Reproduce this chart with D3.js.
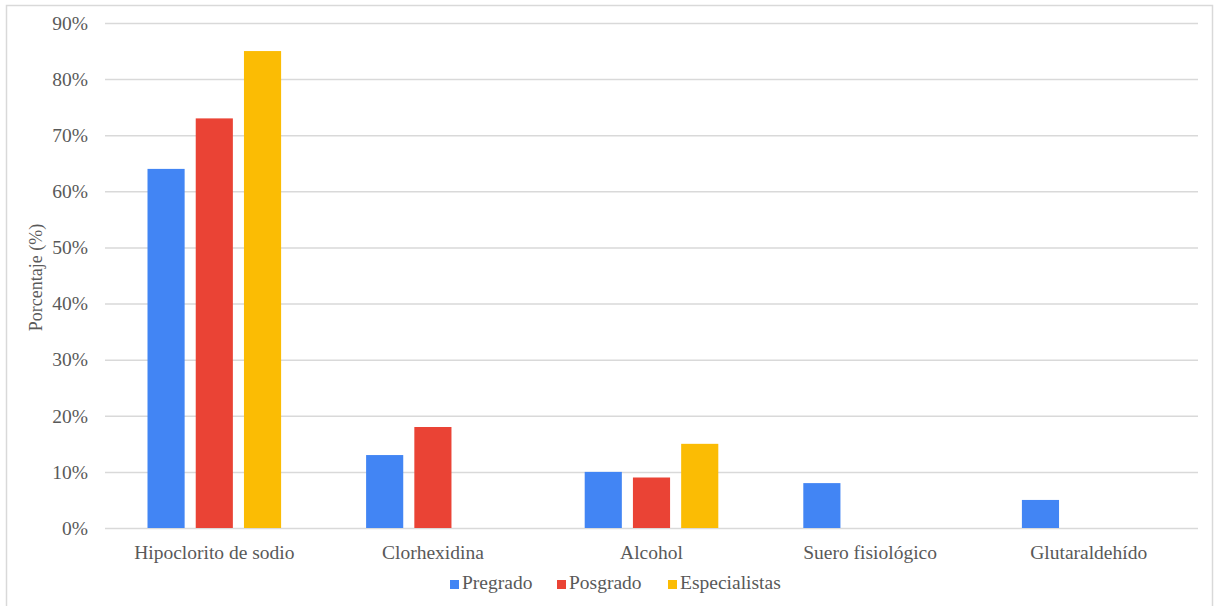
<!DOCTYPE html>
<html>
<head>
<meta charset="utf-8">
<script src="https://cdn.jsdelivr.net/npm/d3@7"></script>
<style>
  html, body { margin: 0; padding: 0; background: #ffffff; }
  svg { display: block; }
  text { font-family: "Liberation Serif", "Times New Roman", serif; }
</style>
</head>
<body>
<svg id="chart" width="1220" height="606"></svg>
<script>
const categories = ["Hipoclorito de sodio", "Clorhexidina", "Alcohol", "Suero fisiológico", "Glutaraldehído"];
const seriesNames = ["Pregrado", "Posgrado", "Especialistas"];
const pregrado = [64, 13, 10, 8, 5];
const posgrado = [73, 18, 9, 0, 0];
const especialistas = [85, 0, 15, 0, 0];
const yTicks = [0, 10, 20, 30, 40, 50, 60, 70, 80, 90];
const yLabel = "Porcentaje (%)";
const colors = ["#4285F4", "#EA4335", "#FBBC04"];

const seriesValues = [pregrado, posgrado, especialistas];

const svg = d3.select("#chart");
const W = 1220, H = 606;

// outer chart border
svg.append("rect")
  .attr("x", 6.5).attr("y", 5.5)
  .attr("width", 1206).attr("height", 620)
  .attr("fill", "#ffffff")
  .attr("stroke", "#d9d9d9").attr("stroke-width", 1.5);

const plot = { left: 105, right: 1198, top: 23, bottom: 528 };

const x0 = d3.scaleBand().domain(categories).range([plot.left, plot.right]).paddingInner(0).paddingOuter(0);
const groupPad = 42.5;
const x1 = d3.scaleBand().domain(seriesNames)
  .range([groupPad, x0.bandwidth() - groupPad])
  .paddingInner(0.23).paddingOuter(0);
const y = d3.scaleLinear().domain([0, 90]).range([plot.bottom, plot.top]);

// gridlines
const yAxis = d3.axisLeft(y).tickValues(yTicks).tickSize(-(plot.right - plot.left)).tickFormat(d => d + "%").tickPadding(17);
const gy = svg.append("g").attr("transform", `translate(${plot.left},0)`).call(yAxis);
gy.select(".domain").remove();
gy.selectAll(".tick line").attr("stroke", "#d9d9d9").attr("stroke-width", 1.5);
gy.selectAll(".tick text").attr("fill", "#595959").attr("font-size", "19.5px")
  .attr("font-family", "'Liberation Serif', 'Times New Roman', serif");

// bars
const rows = categories.map((c, i) => ({ cat: c, vals: seriesNames.map((s, j) => ({ s, j, v: seriesValues[j][i] })) }));
const groups = svg.append("g").selectAll("g").data(rows).join("g")
  .attr("transform", d => `translate(${x0(d.cat)},0)`);
groups.selectAll("rect").data(d => d.vals.filter(e => e.v > 0)).join("rect")
  .attr("x", d => x1(d.s))
  .attr("width", x1.bandwidth())
  .attr("y", d => y(d.v))
  .attr("height", d => y(0) - y(d.v))
  .attr("fill", d => colors[d.j]);

// x axis labels
const xAxis = d3.axisBottom(x0).tickSize(0).tickPadding(17);
const gx = svg.append("g").attr("transform", `translate(0,${plot.bottom})`).call(xAxis);
gx.select(".domain").remove();
gx.selectAll(".tick text").attr("fill", "#595959").attr("font-size", "19.5px")
  .attr("font-family", "'Liberation Serif', 'Times New Roman', serif");

// y axis title
svg.append("text")
  .attr("transform", `translate(42,${(plot.top + plot.bottom) / 2 + 2}) rotate(-90)`)
  .attr("text-anchor", "middle")
  .attr("fill", "#595959")
  .attr("font-size", "18px")
  .text(yLabel);

// legend
const legendX = [450, 557, 668];
const leg = svg.append("g").selectAll("g").data(seriesNames).join("g")
  .attr("transform", (d, i) => `translate(${legendX[i]},589)`);
leg.append("rect").attr("x", 0).attr("y", -9).attr("width", 9).attr("height", 9)
  .attr("fill", (d, i) => colors[i]);
leg.append("text").attr("x", 12).attr("y", 0).attr("fill", "#595959")
  .attr("font-size", "19.5px").text(d => d);
</script>
</body>
</html>
